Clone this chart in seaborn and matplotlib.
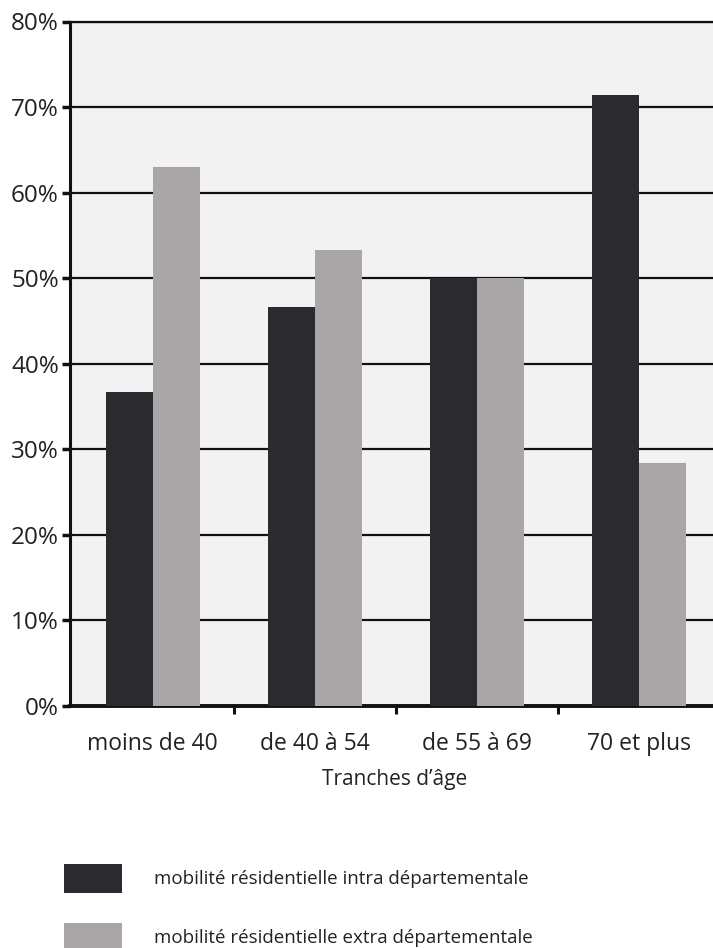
import matplotlib
matplotlib.use("Agg")
import matplotlib.pyplot as plt
import seaborn as sns
import pandas as pd

categories = ["moins de 40", "de 40 à 54", "de 55 à 69", "70 et plus"]
intra = [36.7, 46.6, 50.0, 71.4]
extra = [63.0, 53.3, 50.0, 28.4]
series_names = ["mobilité résidentielle intra départementale",
                "mobilité résidentielle extra départementale"]
yticks = [0, 10, 20, 30, 40, 50, 60, 70, 80]
ytick_labels = [f"{v}%" for v in yticks]
xlabel = "Tranches d’âge"

colors = ["#2b2a2e", "#aaa6a7"]

sns.set_theme(style="white")
plt.rcParams["font.family"] = ["Open Sans", "DejaVu Sans"]

df = pd.DataFrame({
    "tranche": categories * 2,
    "valeur": intra + extra,
    "serie": [series_names[0]] * 4 + [series_names[1]] * 4,
})

fig = plt.figure(figsize=(7.13, 9.48), dpi=100)
fig.patch.set_facecolor("white")
ax = fig.add_axes([70 / 713, 1 - 706 / 948, 1 - 70 / 713 + 0.01, (706 - 21.5) / 948])
ax.set_facecolor("#f2f2f2")

sns.barplot(data=df, x="tranche", y="valeur", hue="serie", palette=colors,
            width=0.58, saturation=1, ax=ax, zorder=3, edgecolor="none")

ax.set_ylim(0, 80)
ax.set_xlim(-0.51, 3.5)
ax.set_yticks(yticks)
ax.set_yticklabels(ytick_labels, fontsize=17.5, color="#222222")
ax.yaxis.grid(True, color="#111111", linewidth=1.6, zorder=0)
ax.xaxis.grid(False)
ax.set_axisbelow(True)

ax.set_xticks([0, 1, 2, 3])
ax.set_xticklabels(categories, fontsize=16.5, color="#222222")
ax.tick_params(axis="x", which="major", length=0, pad=19)
ax.set_xticks([0.5, 1.5, 2.5, 3.5], minor=True)
ax.tick_params(axis="x", which="minor", direction="out", length=6, width=2.2,
               color="#111111", bottom=True)
ax.tick_params(axis="y", direction="out", length=6, width=2.5, color="#111111",
               pad=2, left=True)

ax.set_xlabel(xlabel, fontsize=15, color="#222222", labelpad=9)
ax.set_ylabel("")

for side in ["left", "bottom", "top"]:
    ax.spines[side].set_visible(True)
    ax.spines[side].set_color("#111111")
ax.spines["left"].set_linewidth(2.2)
ax.spines["bottom"].set_linewidth(2.8)
ax.spines["top"].set_linewidth(1.6)
ax.spines["right"].set_visible(False)

handles, labels = ax.get_legend_handles_labels()
ax.legend(handles, labels, loc="upper left",
          bbox_to_anchor=(64 / 713, 1 - 864 / 948), bbox_transform=fig.transFigure,
          frameon=False, fontsize=13.5, handlelength=3.1, handleheight=2.0,
          handletextpad=1.7, labelspacing=1.6, borderpad=0, borderaxespad=0,
          labelcolor="#222222")

fig.savefig("out.png", dpi=100, facecolor="white")
